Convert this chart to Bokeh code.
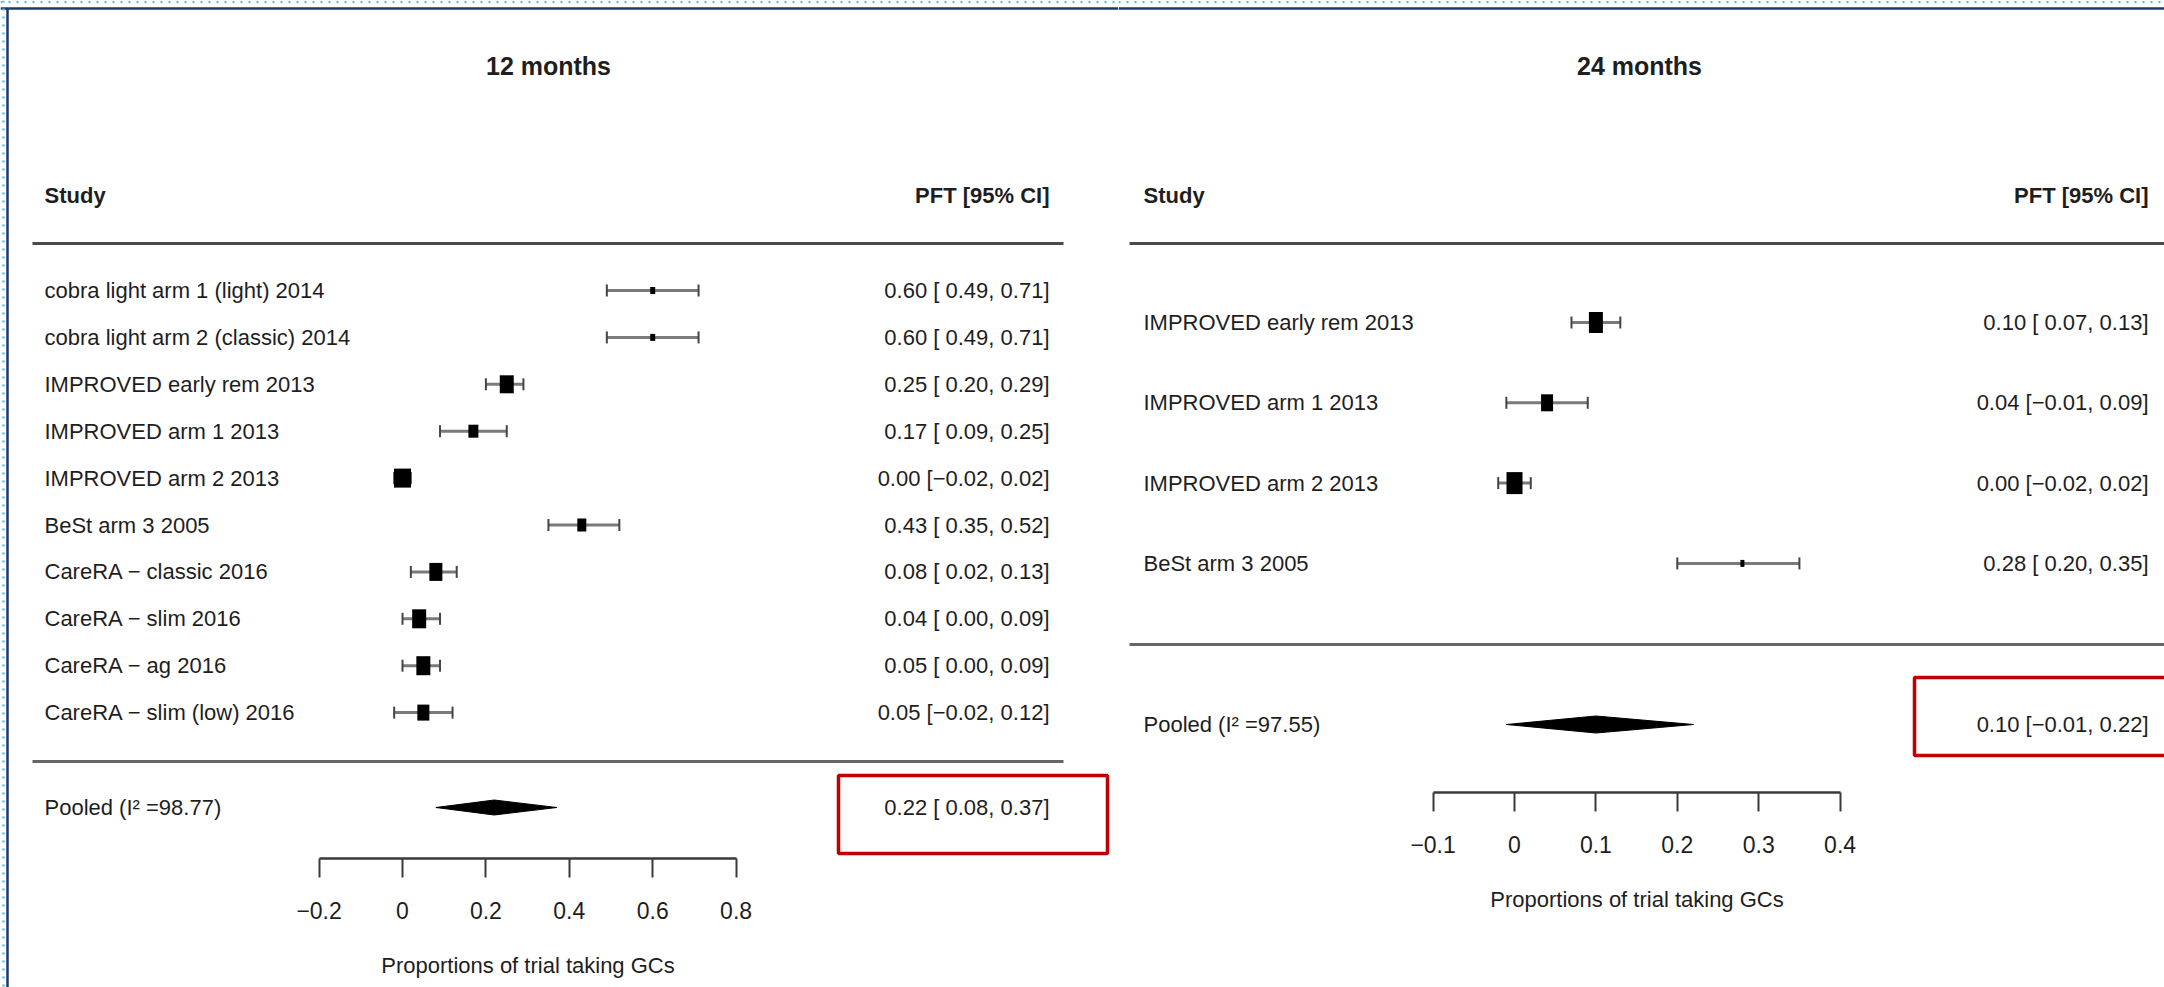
from bokeh.plotting import figure
from bokeh.models import Range1d, LinearAxis, FixedTicker, ColumnDataSource, Whisker, TeeHead
from bokeh.layouts import row
from bokeh.core.properties import value
from bokeh.embed import file_html
from bokeh.resources import INLINE

# ---------------- data ----------------
studies_12 = ["cobra light arm 1 (light) 2014", "cobra light arm 2 (classic) 2014",
              "IMPROVED early rem 2013", "IMPROVED arm 1 2013", "IMPROVED arm 2 2013",
              "BeSt arm 3 2005", "CareRA \u2212 classic 2016", "CareRA \u2212 slim 2016",
              "CareRA \u2212 ag 2016", "CareRA \u2212 slim (low) 2016"]
est_12 = [0.60, 0.60, 0.25, 0.17, 0.00, 0.43, 0.08, 0.04, 0.05, 0.05]
lo_12 = [0.49, 0.49, 0.20, 0.09, -0.02, 0.35, 0.02, 0.00, 0.00, -0.02]
hi_12 = [0.71, 0.71, 0.29, 0.25, 0.02, 0.52, 0.13, 0.09, 0.09, 0.12]
pooled_12 = [0.22, 0.08, 0.37]
i2_12 = 98.77
ticks_12 = [-0.2, 0, 0.2, 0.4, 0.6, 0.8]
tick_labels_12 = ["\u22120.2", "0", "0.2", "0.4", "0.6", "0.8"]

studies_24 = ["IMPROVED early rem 2013", "IMPROVED arm 1 2013", "IMPROVED arm 2 2013",
              "BeSt arm 3 2005"]
est_24 = [0.10, 0.04, 0.00, 0.28]
lo_24 = [0.07, -0.01, -0.02, 0.20]
hi_24 = [0.13, 0.09, 0.02, 0.35]
pooled_24 = [0.10, -0.01, 0.22]
i2_24 = 97.55
ticks_24 = [-0.1, 0, 0.1, 0.2, 0.3, 0.4]
tick_labels_24 = ["\u22120.1", "0", "0.1", "0.2", "0.3", "0.4"]

axis_title = "Proportions of trial taking GCs"

# ---------------- styles ----------------
box_w_12 = [5, 5, 14, 10, 17, 9, 13, 14, 14, 12]
box_h_12 = [7, 7, 18, 13, 19, 13, 18, 19, 19, 16]
box_w_24 = [14, 12, 16, 4]
box_h_24 = [21, 17, 22, 7]

FONT = "Liberation Sans"
TXT = "#1e1e1e"
FS = "22px"
H = 987


def fmt_lo(v):
    return "\u2212%.2f" % abs(v) if v < 0 else " %.2f" % v


def fmt_v(v):
    return "\u2212%.2f" % abs(v) if v < 0 else "%.2f" % v


def ci_text(e, l, h):
    return "%s [%s, %s]" % (fmt_v(e), fmt_lo(l), fmt_v(h))


def panel(title, studies, est, lo, hi, pooled, i2, ticks, tick_labels, bw, bh, L):
    X = lambda px: (px - L["zero"]) / L["unit"]
    Y = lambda py: (py - L["row0"]) / L["rowpx"]
    W = L["width"]
    x0 = L["fx0"]
    p = figure(width=W, height=H,
               x_range=Range1d(X(x0), X(x0 + W)),
               y_range=Range1d(Y(H), Y(0)),
               x_axis_type=None, y_axis_type=None,
               output_backend="svg", toolbar_location=None, min_border=0)
    p.outline_line_color = None
    p.background_fill_color = "white"
    p.border_fill_color = "white"

    n = len(studies)
    rows = list(range(n))

    # page decorations (screenshot frame)
    p.segment(x0=[X(x0)], x1=[X(x0 + W)], y0=[Y(1.5)], y1=[Y(1.5)],
              line_color="#5bbfe8", line_width=2.5, line_dash="2 6")
    p.segment(x0=[X(x0)], x1=[X(x0 + W)], y0=[Y(8)], y1=[Y(8)],
              line_color="#1f3864", line_width=2.5)
    if L.get("left_edge"):
        p.segment(x0=[X(3)], x1=[X(3)], y0=[Y(0)], y1=[Y(H)],
                  line_color="#5bbfe8", line_width=2.5, line_dash="2 6")
        p.segment(x0=[X(7)], x1=[X(7)], y0=[Y(8)], y1=[Y(H)],
                  line_color="#1f3864", line_width=2.5)

    # titles & headers
    p.text(x=[X(L["title_x"])], y=[Y(65)], text=[title], text_align="center",
           text_baseline="middle", text_font=value(FONT), text_font_size="25px",
           text_font_style="bold", text_color=TXT)
    p.text(x=[X(L["label_x"])], y=[Y(195)], text=["Study"], text_align="left",
           text_baseline="middle", text_font=value(FONT), text_font_size=FS,
           text_font_style="bold", text_color=TXT)
    p.text(x=[X(L["ci_x"])], y=[Y(195)], text=["PFT [95% CI]"], text_align="right",
           text_baseline="middle", text_font=value(FONT), text_font_size=FS,
           text_font_style="bold", text_color=TXT)

    # rules
    p.segment(x0=[X(L["rule_x0"])], x1=[X(L["rule_x1"])], y0=[Y(243)], y1=[Y(243)],
              line_color="#4a4a4a", line_width=3)
    p.segment(x0=[X(L["rule_x0"])], x1=[X(L["rule_x1"])], y0=[Y(L["rule_bot"])],
              y1=[Y(L["rule_bot"])], line_color="#666666", line_width=3)

    # CIs
    src = ColumnDataSource(dict(y=rows, est=est, lo=lo, hi=hi, w=bw, h=bh,
                                label=studies,
                                ci=[ci_text(e, l, h) for e, l, h in zip(est, lo, hi)]))
    wh = Whisker(source=src, base="y", lower="lo", upper="hi", dimension="width",
                 line_color="#7a7a7a", line_width=3,
                 lower_head=TeeHead(size=12, line_color="#454545", line_width=2),
                 upper_head=TeeHead(size=12, line_color="#454545", line_width=2))
    p.add_layout(wh)
    p.rect(x="est", y="y", width="w", height="h", width_units="screen",
           height_units="screen", source=src, fill_color="black", line_color=None)

    p.text(x=X(L["label_x"]), y="y", text="label", source=src, text_align="left",
           text_baseline="middle", text_font=value(FONT), text_font_size=FS,
           text_color=TXT)
    p.text(x=X(L["ci_x"]), y="y", text="ci", source=src, text_align="right",
           text_baseline="middle", text_font=value(FONT), text_font_size=FS,
           text_color=TXT)

    # pooled
    pe, pl, ph = pooled
    py = Y(L["pooled_y"])
    dh = L["dia_h"] / L["rowpx"]
    p.patch(x=[pl, pe, ph, pe], y=[py, py - dh, py, py + dh], fill_color="black",
            line_color="black", line_width=1)
    p.text(x=[X(L["label_x"])], y=[py], text=["Pooled (I\u00b2 =%.2f)" % i2],
           text_align="left", text_baseline="middle", text_font=value(FONT),
           text_font_size=FS, text_color=TXT)
    p.text(x=[X(L["ci_x"])], y=[py], text=[ci_text(pe, pl, ph)], text_align="right",
           text_baseline="middle", text_font=value(FONT), text_font_size=FS,
           text_color=TXT)

    # red highlight box
    bx0, bx1, by0, by1 = L["redbox"]
    p.quad(left=[X(bx0)], right=[X(bx1)], top=[Y(by0)], bottom=[Y(by1)],
           fill_color=None, line_color="#c00000", line_width=3.5)

    # x axis
    ax = LinearAxis(fixed_location=Y(L["axis_y"]), bounds=(ticks[0], ticks[-1]),
                    ticker=FixedTicker(ticks=ticks),
                    major_label_overrides=dict(zip(ticks, tick_labels)),
                    axis_label=axis_title)
    ax.axis_line_color = "#3a3a3a"
    ax.axis_line_width = 2.5
    ax.major_tick_line_color = "#3a3a3a"
    ax.major_tick_line_width = 2
    ax.major_tick_out = 19
    ax.major_tick_in = 0
    ax.minor_tick_line_color = None
    ax.major_label_standoff = 24
    ax.major_label_text_font = FONT
    ax.major_label_text_font_size = "23px"
    ax.major_label_text_color = TXT
    ax.axis_label_text_font = FONT
    ax.axis_label_text_font_size = FS
    ax.axis_label_text_font_style = "normal"
    ax.axis_label_text_color = TXT
    ax.axis_label_standoff = 31
    p.add_layout(ax, "below")
    return p


L12 = dict(fx0=0, width=1118, zero=402, unit=417, row0=290, rowpx=46.9,
           title_x=548, label_x=44, ci_x=1049, rule_x0=32, rule_x1=1063,
           rule_bot=761, pooled_y=807, axis_y=858, dia_h=7.5,
           redbox=(838, 1107, 775, 853), left_edge=True)
L24 = dict(fx0=1118, width=1046, zero=1514, unit=814, row0=322, rowpx=80.3,
           title_x=1639, label_x=1143, ci_x=2148, rule_x0=1129, rule_x1=2175,
           rule_bot=644, pooled_y=724, axis_y=792, dia_h=8.5,
           redbox=(1914, 2180, 677, 755))

p1 = panel("12 months", studies_12, est_12, lo_12, hi_12, pooled_12, i2_12,
           ticks_12, tick_labels_12, box_w_12, box_h_12, L12)
p2 = panel("24 months", studies_24, est_24, lo_24, hi_24, pooled_24, i2_24,
           ticks_24, tick_labels_24, box_w_24, box_h_24, L24)

layout = row(p1, p2, spacing=0)
open("out.html", "w").write(file_html(layout, INLINE))
